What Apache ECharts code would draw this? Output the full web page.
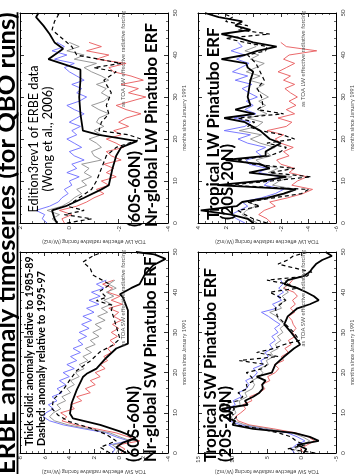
<!DOCTYPE html>
<html><head><meta charset="utf-8">
<script src="https://cdn.jsdelivr.net/npm/echarts@6.0.0/dist/echarts.min.js"></script>
<style>html,body{margin:0;padding:0;background:#fff;}#c{width:356px;height:476px;}</style>
</head><body><div id="c"></div>
<script>
// ---------------- data ----------------
const colorMonths = [0,1,2,3,4,5,6,7,8,9,10,11,12,13,14,15,16,17,18,19,20,21,22,23,24,25,26,27,28,29,30,31,32,33,34,35,36,37,38,39,40,41,42,43];
const monthTicks = ['0','10','20','30','40','50'];

// Panel A: Nr-global LW (60S-60N)
const A_blue = [0.9,1.1,1.0,1.35,0.8,0.45,0.3,0.05,0.2,-0.1,0.0,-0.4,0.1,-0.3,-0.1,-0.6,-0.2,0.0,-0.5,-0.2,0.1,-0.3,-0.1,-0.45,0.0,-0.3,-0.6,-0.2,0.1,-0.4,-0.7,-0.3,-0.5,-0.1,-0.6,-0.3,0.0,0.2,-0.2,0.6,0.1,0.7,0.2,0.5];
const A_gray = [0.5,0.7,0.4,0.9,0.3,0.0,-0.2,-0.5,-0.3,-0.7,-0.5,-0.9,-0.6,-0.8,-0.5,-1.3,-1.0,-0.9,-1.3,-1.1,-0.8,-1.3,-1.0,-1.4,-1.1,-1.2,-1.6,-1.2,-0.9,-1.4,-1.6,-1.3,-1.5,-1.1,-1.6,-1.3,-0.9,-0.6,-1.1,-0.2,-0.6,0.1,-0.4,0.0];
const A_red = [0.2,0.3,-0.1,0.4,-0.3,-0.7,-1.0,-1.4,-1.1,-1.6,-1.3,-1.9,-1.5,-1.8,-1.4,-2.1,-1.7,-1.5,-2.2,-1.9,-1.5,-2.1,-1.8,-2.4,-2.0,-2.3,-2.9,-2.3,-1.9,-2.5,-3.1,-2.4,-2.8,-2.1,-3.0,-2.5,-1.8,-1.6,-2.3,-1.1,-1.6,-0.7,-1.3,-0.8];
const A_solid_m = [0,1,3,4,6,8,9,13,16,18,19.5,21,22,26,30,34,36.5,39,41.5,43,45,47,49,50];
const A_solid_v = [0.5,0.6,0.7,0.15,-0.6,-1.3,-1.6,-1.75,-1.9,-2.1,-2.75,-1.2,-0.55,-0.45,-0.4,-0.45,-0.45,0.85,0.25,0.6,0.8,1.05,1.35,1.25];
const A_dash_m = [0,1,2,3,4,6,8,10,13,16,18,20,21,22,24,26,28,31,34,36,37,38,40,42,44,46,48,50];
const A_dash_v = [0.1,-0.9,0.2,-0.6,0.1,-0.4,-0.9,-1.1,-1.3,-1.5,-1.9,-2.9,-2.4,-1.2,-1.3,-1.6,-1.5,-1.7,-1.4,-1.9,-1.0,-2.1,-0.3,-0.1,0.3,0.7,0.6,0.4];

// Panel B: Nr-global SW (60S-60N)
const B_blue = [0.5,0.3,0.8,-0.8,0.2,1.0,2.8,4.5,5.6,6.1,5.9,5.3,5.7,5.0,5.4,4.6,5.0,4.3,4.8,4.0,4.5,3.6,4.2,3.4,3.9,3.1,3.7,2.9,3.3,2.6,3.2,2.4,3.0,2.2,2.9,2.0,2.6,1.6,2.4,1.5,2.2,1.2,1.8,1.0];
const B_gray = [0.2,0.0,0.5,-1.0,-0.1,0.7,2.4,4.1,5.2,5.6,5.3,4.7,5.0,4.3,4.6,3.9,4.2,3.6,3.9,3.2,3.5,2.8,3.2,2.5,2.9,2.2,2.7,1.9,2.3,1.6,2.1,1.4,1.9,1.1,1.7,0.9,1.4,0.6,1.2,0.4,1.0,0.2,0.8,0.3];
const B_red = [-0.2,-0.5,0.1,-1.7,-0.8,0.2,1.8,3.5,4.6,4.2,4.7,3.6,3.9,3.0,3.4,2.3,2.7,1.9,2.3,1.5,1.9,1.1,1.5,0.9,1.2,0.6,0.9,0.3,0.7,0.1,0.6,0.0,0.5,-0.2,0.4,0.0,0.8,-0.3,0.6,-0.1,0.9,0.5,1.3,0.4];
const B_solid_m = [0,1.4,2.5,3.8,5.4,7,8.6,9.8,12.5,15.7,18.9,19.7,21,23.7,26,27.2,35.5,38.7,39.5,41,42,44.3,46.7,48.3,49.4,50];
const B_solid_v = [-0.6,0.2,-0.3,-1.4,-0.1,1.5,3.7,3.95,3.8,3.4,2.9,2.6,1.8,1.0,0.2,-0.75,-0.75,-0.35,-0.1,-1.0,-1.7,-2.1,-2.8,-3.8,-2.9,-1.4];
const B_dash_m = [0,1.4,3,4.6,6.2,7.8,9.4,11,13.3,15.7,18,20.5,22.9,25.2,26.8,28.4,31.6,35.6,36.7,37.9,38.7,40.3,41.9,44.3,45.9,47.5,49,50];
const B_dash_v = [0.7,1.5,0.2,1.0,2.3,4.0,4.9,5.4,5.3,4.5,4.0,3.4,2.3,1.5,0.5,-0.1,0.2,0.6,0.45,1.8,1.0,1.5,0.7,2.1,2.3,2.9,2.1,1.3];

// Panel C: Tropical LW (20S-20N)
const C_blue = [0.6,1.2,1.6,1.0,0.4,0.8,-0.6,-1.6,-2.2,-0.8,-1.2,-2.0,-0.4,-1.0,0.3,0.5,-0.6,-0.2,-0.9,0.4,1.1,0.2,2.1,0.6,0.2,1.4,-0.2,0.6,0.0,0.5,-0.3,0.3,0.8,0.1,1.3,0.4,1.5,0.9,0.3,1.2,0.6,1.6,0.8,1.1];
const C_gray = [-0.3,0.3,0.8,0.5,-0.2,0.2,-1.3,-2.4,-3.1,-1.4,-1.9,-2.8,-1.1,-1.8,-0.6,-0.2,-1.3,-0.9,-1.6,-0.5,0.2,-0.6,1.0,-0.3,-0.7,0.4,-1.0,-0.3,-0.9,-0.4,-1.1,-0.6,-0.2,-0.8,0.3,-0.5,0.5,-0.2,-0.8,0.2,-0.4,0.6,-0.2,0.1];
const C_red = [-1.3,-1.0,-0.4,-0.8,-1.6,-1.2,-2.5,-3.6,-4.3,-2.8,-3.2,-3.9,-2.6,-3.0,-2.0,-1.7,-2.6,-2.2,-2.9,-2.0,-1.6,-2.2,-1.0,-2.4,-2.8,-1.8,-3.0,-2.4,-3.1,-2.6,-3.2,-2.7,-2.3,-3.0,-2.2,-2.7,-1.8,-2.4,-3.0,-2.2,-2.6,-4.6,-2.4,-2.0];
const C_solid_m = [0,1,2,3,4,5,6,7,8,9,10,11,12,13,14,15,16,17,18,19,20,22,24,25,26,27,28,30,32,34,36,37,38,39,40,41,42,43,44,45,46,47,48,49,50];
const C_solid_v = [0.0,0.4,1.6,3.8,1.2,0.8,-1.0,-2.2,-3.1,2.6,-0.5,-2.4,0.3,-1.2,-0.5,2.0,-0.9,-0.9,-1.4,-2.0,-1.2,-0.5,0.6,2.1,-0.1,1.3,0.2,0.4,0.3,0.2,0.0,0.4,0.5,2.3,0.6,-0.3,-1.7,0.0,1.0,2.3,0.2,1.3,0.8,2.5,3.5];
const C_dash_m = [0,1,2,3,4,5,6,7,8,9,10,11,12,13,14,15,16,17,18,19,20,21,22,23,24,25,26,27,28,30,32,34,36,38,40,41,42,43,44,45,46,47,48,49,50];
const C_dash_v = [-1.0,0.0,0.6,1.1,-0.5,0.4,-1.5,-3.5,-4.0,1.8,-1.3,-4.2,-1.2,-3.0,0.0,1.2,-1.2,-2.0,-2.4,-1.0,-3.0,-2.1,-0.5,0.4,-0.1,1.1,-2.2,-0.3,-0.7,-0.6,-0.3,-0.8,-0.5,-0.2,0.4,-0.9,-1.0,0.6,2.0,-1.2,1.1,0.4,2.0,1.5,2.3];

// Panel D: Tropical SW (20S-20N)
const D_blue = [1.0,1.5,0.8,-0.5,0.6,2.0,5.5,8.8,10.5,11.0,10.2,10.7,9.6,9.9,8.7,9.1,8.0,7.6,8.1,6.9,6.4,7.0,5.6,5.9,4.8,5.3,4.2,4.6,3.8,4.3,3.4,3.9,3.1,4.0,4.8,5.8,3.6,4.2,2.9,3.5,2.6,3.3,2.7,3.0];
const D_gray = [0.3,0.9,0.0,-1.2,-0.2,1.4,4.8,8.2,9.8,10.2,9.5,9.8,8.9,9.0,7.9,8.2,7.1,6.8,7.2,6.0,5.6,6.1,4.8,5.1,4.0,4.5,3.4,3.8,3.0,3.5,2.7,3.1,2.4,3.2,3.6,4.6,2.9,3.3,2.2,2.8,1.9,2.6,2.0,2.4];
const D_red = [-0.4,0.2,-0.8,-1.9,-1.0,0.8,4.0,7.6,9.2,9.6,8.8,8.1,8.5,7.2,7.5,6.1,5.3,5.8,4.6,4.9,3.8,3.3,3.9,2.6,2.9,1.9,2.4,1.5,1.9,0.9,1.3,0.8,1.2,1.4,1.9,1.0,1.6,0.9,1.3,0.6,1.1,2.6,1.8,1.3];
const D_solid_m = [0,1,2,3,4,5,6,7,8,9,10,11,12,13,14,15,16,17,18,19,20,22,24,26,27,28,30,32,34,36,37,38,39,40,41,42,43,44,45,46,47,48,49,50];
const D_solid_v = [-0.3,-0.7,0.6,-2.5,-1.2,1.1,7.0,10.0,9.6,11.3,10.0,11.6,7.8,8.2,7.0,6.1,5.6,5.7,5.2,6.5,4.3,3.8,2.5,1.1,0.2,0.6,1.5,2.5,2.0,0.6,-1.2,-2.5,-1.8,-0.7,0.6,2.5,2.0,-0.3,-1.2,-1.6,-2.1,-3.0,-4.4,-3.5];
const D_dash_m = [0,1,2,3,4,5,6,7,8,9,10,11,12,13,14,15,16,17,18,19,20,21,22,23,24,25,26,27,28,30,32,34,36,38,40,41,42,43,44,45,46,47,48,49,50];
const D_dash_v = [-2.0,2.0,-0.5,0.8,1.5,3.3,6.0,9.5,10.0,9.4,10.3,9.7,12.0,9.2,8.5,9.2,7.8,8.0,6.9,7.3,8.0,5.6,5.0,9.0,3.4,6.5,4.0,2.5,0.3,1.1,2.3,3.5,3.8,2.3,4.6,0.5,2.0,5.0,-0.8,-1.5,1.0,3.4,2.0,1.2,-1.0];

// value-axis ranges (min, max, interval)
const ranges = [[-4,2,2],[-4,8,2],[-6,4,2],[-5,15,5]];
const valueNames = ['TOA LW effective radiative forcing (W/m2)','TOA SW effective radiative forcing (W/m2)','TOA LW effective radiative forcing (W/m2)','TOA SW effective radiative forcing (W/m2)'];
const innerNotes = ['as TOA LW effective radiative forcing','as TOA SW effective radiative forcing','as TOA LW effective radiative forcing','as TOA SW effective radiative forcing'];

// ---------------- layout ----------------
const FAM = 'Lato, "Open Sans", sans-serif';
const mctx = document.createElement('canvas').getContext('2d');
function widthAt(t, w, s){ mctx.font = w + ' ' + s + 'px ' + FAM; return mctx.measureText(t).width; }
function fit(t, w, target){ return 100 * target / widthAt(t, w, 100); }

const grids = [
  {left:20, top:13, width:148, height:210},
  {left:20, top:252, width:148, height:210},
  {left:198, top:13, width:146, height:210},
  {left:198, top:252, width:146, height:210}
];

const xAxes = [], yAxes = [];
grids.forEach((g, i) => {
  const [mn, mx, iv] = ranges[i];
  const common = {type:'value', gridIndex:i, inverse:true, min:mn, max:mx, interval:iv,
    axisLine:{show:true, onZero:false, lineStyle:{color:'#000', width:1}},
    axisTick:{show:true, inside:true, length:4, lineStyle:{color:'#000', width:0.8}},
    minorTick:{show:true, splitNumber:4, length:2, lineStyle:{color:'#000', width:0.6}},
    splitLine:{show:false}};
  xAxes.push(Object.assign({}, common, {position:'bottom',
    axisLabel:{show:true, rotate:90, align:'right', verticalAlign:'middle', fontSize:6, color:'#333', margin:3, fontFamily:FAM},
    name: valueNames[i], nameLocation:'middle', nameGap:16, nameRotate:180,
    nameTextStyle:{fontSize:5.5, color:'#444', fontFamily:FAM}}));
  xAxes.push(Object.assign({}, common, {position:'top', axisLabel:{show:false}}));
  const yc = {type:'value', gridIndex:i, min:0, max:50, interval:10,
    axisLine:{show:true, onZero:false, lineStyle:{color:'#000', width:1}},
    axisTick:{show:true, inside:true, length:4, lineStyle:{color:'#000', width:0.8}},
    minorTick:{show:true, splitNumber:5, length:2, lineStyle:{color:'#000', width:0.6}},
    splitLine:{show:false}};
  yAxes.push(Object.assign({}, yc, {position:'right',
    axisLabel:{show:true, rotate:90, align:'center', verticalAlign:'top', fontSize:6, color:'#333', margin:4, fontFamily:FAM,
      formatter:(v)=> monthTicks[Math.round(v/10)] || ''},
    name:'months since January 1991', nameLocation:'middle', nameGap:13, nameRotate:90,
    nameTextStyle:{fontSize:5.5, color:'#444', fontFamily:FAM}}));
  yAxes.push(Object.assign({}, yc, {position:'left', axisLabel:{show:false}}));
});

function pairs(vals, months){ return vals.map((v, k) => [v, months[k]]); }
function line(gi, vals, months, color, width, type, z){
  return {type:'line', xAxisIndex:2*gi, yAxisIndex:2*gi, data:pairs(vals, months), showSymbol:false, symbol:'none',
    lineStyle:{color:color, width:width, type:type}, z:z, silent:true, animation:false};
}
const RED = '#e8585a', BLUE = '#6b6bff', GRAY = '#8c8c8c';
const panels = [
  [A_red, A_blue, A_gray, A_dash_m, A_dash_v, A_solid_m, A_solid_v],
  [B_red, B_blue, B_gray, B_dash_m, B_dash_v, B_solid_m, B_solid_v],
  [C_red, C_blue, C_gray, C_dash_m, C_dash_v, C_solid_m, C_solid_v],
  [D_red, D_blue, D_gray, D_dash_m, D_dash_v, D_solid_m, D_solid_v]
];
const series = [];
panels.forEach((p, i) => {
  series.push(line(i, p[0], colorMonths, RED, 0.9, 'solid', 2));
  series.push(line(i, p[1], colorMonths, BLUE, 0.9, 'solid', 2));
  series.push(line(i, p[2], colorMonths, GRAY, 0.9, 'solid', 3));
  series.push(line(i, p[4], p[3], '#000', 1.2, [4,3], 4));
  series.push(line(i, p[6], p[5], '#000', 1.8, 'solid', 5));
});

// ---------------- texts ----------------
function vtext(str, x, y, size, weight, align, color){
  return {type:'text', x:x, y:y, rotation:Math.PI/2, z:100, silent:true,
    style:{text:str, font: weight + ' ' + size + 'px ' + FAM, fill:color||'#000',
      textAlign:align, textVerticalAlign:'middle', align:align, verticalAlign:'middle'}};
}
const titleText = 'ERBE anomaly timeseries (for QBO runs)';
const titleSize = fit(titleText, 'bold', 462);
const titleW = widthAt(titleText, 'bold', titleSize);
const edSize = fit('Edition3rev1 of ERBE data', 'normal', 147);
const thickSize = fit('Thick solid: anomaly relative to 1985-89', 'bold', 190);
const panelSize = fit('Nr-global LW Pinatubo ERF', 'bold', 204);
const noteSize = fit(innerNotes[0], 'normal', 96);

const graphics = [
  vtext(titleText, 6.3, 474, titleSize, 'bold', 'left'),
  {type:'line', z:100, silent:true, shape:{x1:17.5, y1:474, x2:17.5, y2:474 - titleW}, style:{stroke:'#000', lineWidth:1.8}},
  vtext('Edition3rev1 of ERBE data', 33.5, 139, edSize, 'normal', 'center'),
  vtext('(Wong et al., 2006)', 47.8, 139, edSize, 'normal', 'center'),
  vtext('Thick solid: anomaly relative to 1985-89', 29.5, 446, thickSize, 'bold', 'left'),
  vtext('Dashed: anomaly relative to 1995-97', 41.5, 446, thickSize, 'bold', 'left'),
  vtext('(60S-60N)', 134.8, 227, panelSize, 'bold', 'left'),
  vtext('Nr-global LW Pinatubo ERF', 151.3, 227, panelSize, 'bold', 'left'),
  vtext('(60S-60N)', 133.8, 462, panelSize, 'bold', 'left'),
  vtext('Nr-global SW Pinatubo ERF', 150.8, 462, panelSize, 'bold', 'left'),
  vtext('Tropical LW Pinatubo ERF', 213.3, 220, panelSize, 'bold', 'left'),
  vtext('(20S-20N)', 227.8, 220, panelSize, 'bold', 'left'),
  vtext('Tropical SW Pinatubo ERF', 210.8, 462, panelSize, 'bold', 'left'),
  vtext('(20S-20N)', 225.8, 462, panelSize, 'bold', 'left'),
  vtext(innerNotes[0], 123, 11, noteSize, 'normal', 'right', '#555'),
  vtext(innerNotes[1], 123, 250, noteSize, 'normal', 'right', '#555'),
  vtext(innerNotes[2], 303, 11, noteSize, 'normal', 'right', '#555'),
  vtext(innerNotes[3], 303, 250, noteSize, 'normal', 'right', '#555')
];

const chart = echarts.init(document.getElementById('c'), null, {renderer:'canvas', width:356, height:476});
chart.setOption({
  animation:false,
  backgroundColor:'#fff',
  grid: grids.map(g => Object.assign({show:false, containLabel:false}, g)),
  xAxis: xAxes,
  yAxis: yAxes,
  series: series,
  graphic: graphics
});
</script></body></html>
